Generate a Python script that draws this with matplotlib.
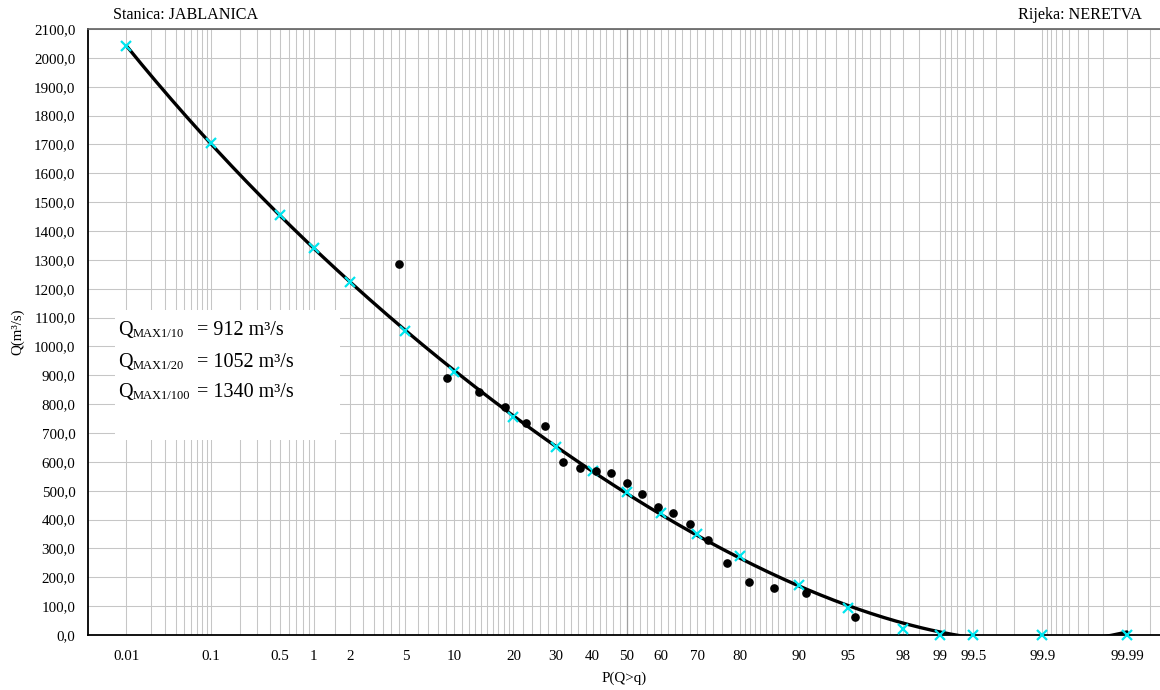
import numpy as np
import matplotlib
matplotlib.use("Agg")
import matplotlib.pyplot as plt
from matplotlib.patches import Rectangle
from matplotlib.ticker import FuncFormatter, FixedLocator
from statistics import NormalDist

plt.rcParams['font.family'] = ['Liberation Serif', 'DejaVu Serif']

# ---------------- data ----------------
# observed annual maxima, plotted at exceedance probability (%)
DOT_P = [4.5, 9.1, 13.6, 18.2, 22.7, 27.3, 31.8, 36.4, 40.9, 45.5, 50.0,
         54.5, 59.1, 63.6, 68.2, 72.7, 77.3, 81.8, 86.4, 90.9, 95.5]
DOT_Q = [1284, 890, 843, 790, 734, 724, 600, 580, 568, 562, 527,
         487, 444, 423, 383, 329, 250, 182, 162, 146, 61]

# theoretical distribution points (cyan crosses)
CYAN_P = [0.01, 0.1, 0.5, 1, 2, 5, 10, 20, 30, 40, 50, 60, 70, 80, 90,
          95, 98, 99, 99.5, 99.9, 99.99]
CYAN_Q = [2040, 1705, 1455, 1340, 1222, 1052, 912, 755, 651, 570, 495, 422,
          350, 274, 173, 93, 20, 0, 0, 0, 0]

TICK_P = [0.01, 0.1, 0.5, 1, 2, 5, 10, 20, 30, 40, 50, 60, 70, 80, 90,
          95, 98, 99, 99.5, 99.9, 99.99]
TICK_LABELS = ["0.01", "0.1", "0.5", "1", "2", "5", "10", "20", "30", "40",
               "50", "60", "70", "80", "90", "95", "98", "99", "99.5",
               "99.9", "99.99"]

RESULT_LABELS = ["MAX1/10", "MAX1/20", "MAX1/100"]
RESULT_VALUES = [912, 1052, 1340]

# ---------------- normal probability scale ----------------
_nd = NormalDist()
_ppf = np.vectorize(_nd.inv_cdf, otypes=[float])
_cdf = np.vectorize(_nd.cdf, otypes=[float])


def fwd(p):
    p = np.asarray(p, dtype=float)
    q = np.clip(p / 100.0, 1e-9, 1 - 1e-9)
    return _ppf(q)


def inv(z):
    z = np.asarray(z, dtype=float)
    return 100.0 * _cdf(z)


# ---------------- figure ----------------
W, H = 1160, 690
fig = plt.figure(figsize=(W / 100, H / 100), dpi=100)
ax = fig.add_axes([88 / W, 1 - 635 / H, 1072 / W, 606 / H])
ax.set_xscale('function', functions=(fwd, inv))
ax.set_xlim(inv(-4.005), inv(3.965))
ax.set_ylim(0, 2100)

# grid lines of the probability paper
grid_p = (list(np.arange(1, 10) * 0.01) + list(np.arange(1, 10) * 0.1) +
          [1, 1.5, 2, 2.5, 3, 3.5, 4, 4.5] + list(range(5, 20)) +
          list(range(20, 80, 2)) + list(range(80, 95)) +
          list(95 + np.arange(0, 8) * 0.5) + list(99 + np.arange(0, 9) * 0.1) +
          list(99.9 + np.arange(0, 10) * 0.01) + [99.995])
ax.xaxis.set_minor_locator(FixedLocator(grid_p))
ax.xaxis.set_major_locator(FixedLocator(TICK_P))
ax.set_xticklabels(TICK_LABELS)
ax.xaxis.set_minor_formatter(FuncFormatter(lambda v, pos: ""))
ax.grid(which='both', axis='x', color='#c6c6c6', lw=0.75, zorder=0)
ax.axvline(50, color='#a0a0a0', lw=0.9, zorder=0.6)

ax.set_yticks(np.arange(0, 2101, 100))
ax.yaxis.set_major_formatter(FuncFormatter(lambda v, pos: f"{v:.1f}".replace('.', ',')))
ax.grid(which='major', axis='y', color='#c6c6c6', lw=0.75, zorder=0)
ax.set_axisbelow(True)

ax.tick_params(axis='both', which='both', length=0, labelsize=10.8)
ax.tick_params(axis='x', pad=11)
ax.tick_params(axis='y', pad=9)

for s in ('left', 'bottom'):
    ax.spines[s].set_color('black')
    ax.spines[s].set_linewidth(1.3)
ax.spines['top'].set_color('#606060')
ax.spines['top'].set_linewidth(1.2)
ax.spines['right'].set_visible(False)

# trend curve through the theoretical points (polynomial in the normal variate)
coef = np.polyfit(fwd(CYAN_P), CYAN_Q, 4)
zz = np.linspace(fwd(CYAN_P[0]), fwd(CYAN_P[-1]), 400)
ax.plot(inv(zz), np.polyval(coef, zz), color='black', lw=2.4, zorder=3,
        solid_capstyle='round')

ax.plot(CYAN_P, CYAN_Q, linestyle='none', marker='x', color='#00e5ee',
        markersize=7, markeredgewidth=1.6, zorder=4, clip_on=False)
ax.plot(DOT_P, DOT_Q, linestyle='none', marker='o', color='black',
        markersize=5.2, zorder=5)

# white box with results
ax.add_patch(Rectangle((27 / 1072, 195 / 606), 225 / 1072, 130 / 606,
                       transform=ax.transAxes, facecolor='white',
                       edgecolor='none', zorder=1.5))
base_y = [335, 367, 397]
for lab, val, by in zip(RESULT_LABELS, RESULT_VALUES, base_y):
    yf = 1 - by / H
    fig.text(118 / W, yf, "Q", fontsize=14.5, va='baseline', ha='left')
    fig.text(132.5 / W, yf - 2 / H, lab, fontsize=9, va='baseline', ha='left')
    fig.text(197 / W, yf, f"= {val} m³/s", fontsize=14.5, va='baseline',
             ha='left')

# labels
fig.text(113 / W, 1 - 19 / H, "Stanica: JABLANICA", fontsize=11.6,
         va='baseline', ha='left')
fig.text(1142 / W, 1 - 19 / H, "Rijeka: NERETVA", fontsize=11.6,
         va='baseline', ha='right')
fig.text(18 / W, 1 - 332 / H, "Q(m³/s)", fontsize=10.8, rotation=90,
         va='center', ha='center')
fig.text(624 / W, 1 - 678 / H, "P(Q>q)", fontsize=10.8, va='center',
         ha='center')

fig.savefig("out.png", dpi=100)
